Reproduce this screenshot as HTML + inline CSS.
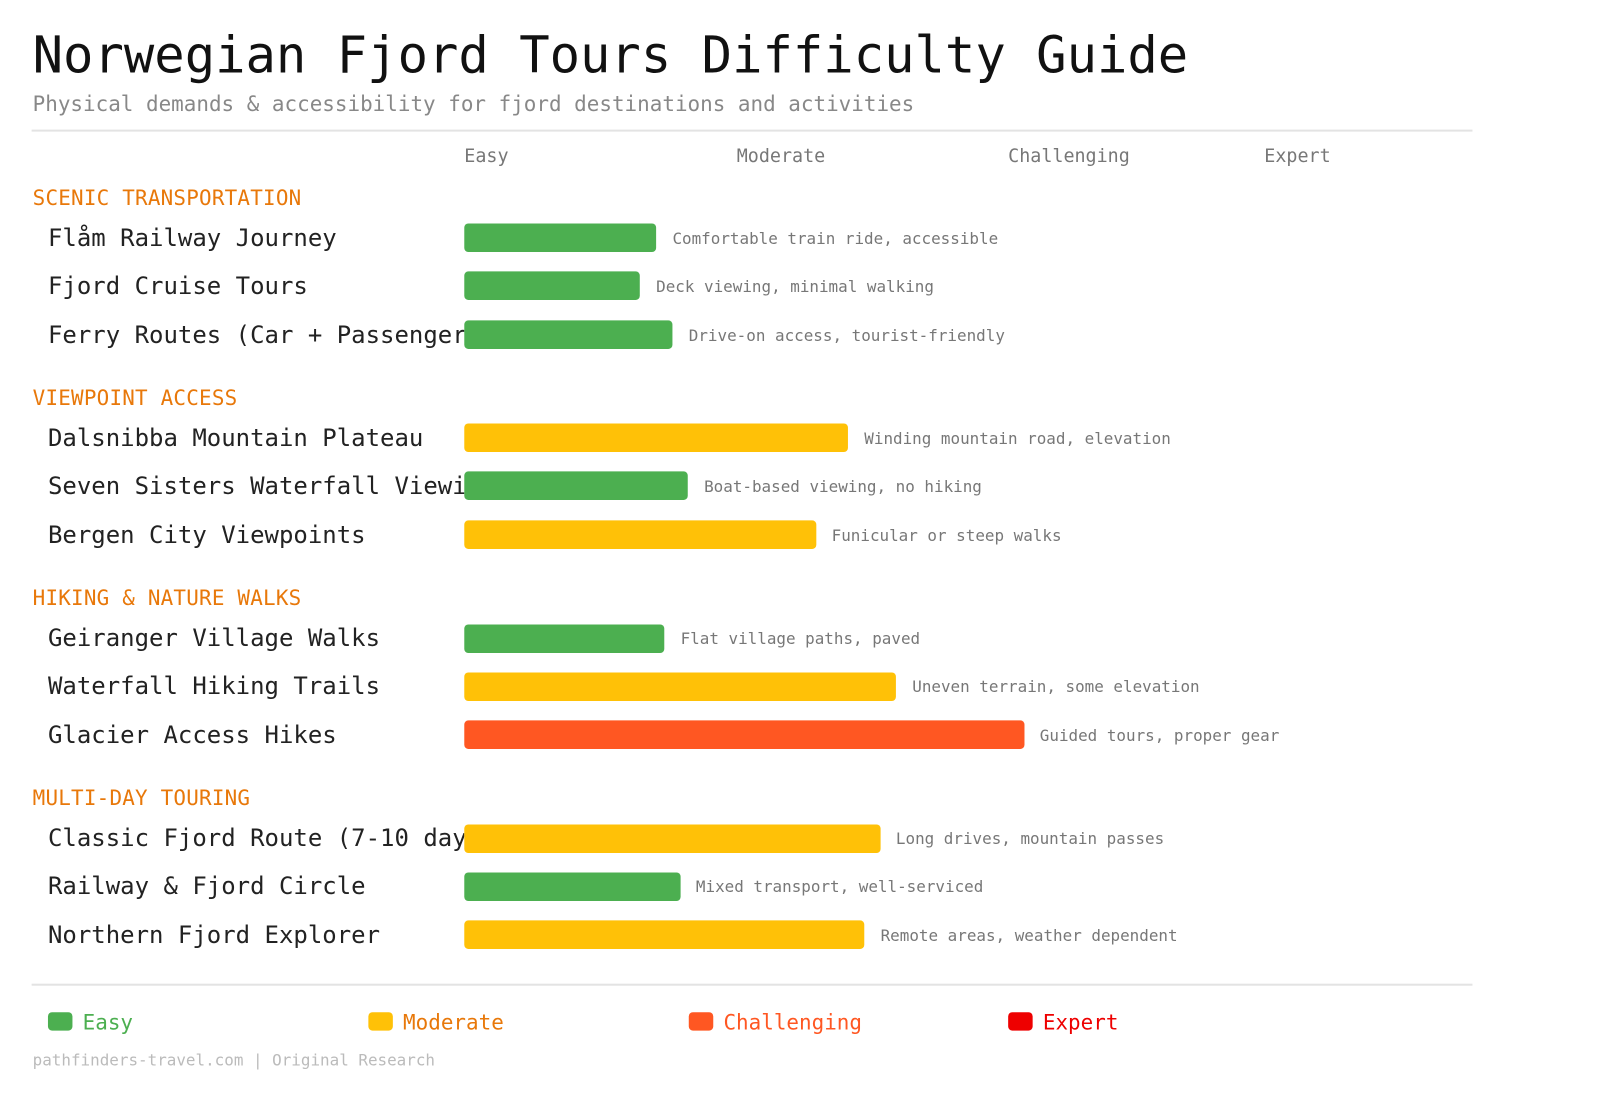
<!DOCTYPE html>
<html><head><meta charset="utf-8"><style>
body{margin:0;width:1600px;height:1120px;background:#fff;position:relative;font-family:"DejaVu Sans Mono","Liberation Mono",monospace;overflow:hidden}
#w{position:absolute;left:0;top:0;width:1568px;height:1098px;transform:scale(1.0204);transform-origin:0 0}
.a{position:absolute;white-space:nowrap}
.t{left:32px;top:24px;font-size:49.5px;color:#111;line-height:60px}
.s{left:32px;top:88px;font-size:20.5px;color:#888;line-height:28px}
.hr{position:absolute;left:31px;width:1412px;height:2px;background:#e3e3e3}
.ax{top:142px;font-size:18px;color:#777;line-height:24px}
.sec{left:32px;font-size:20.5px;color:#e8780a;line-height:26px;letter-spacing:0.2px}
.lab{left:47px;width:408px;overflow:hidden;font-size:23.5px;color:#222;line-height:30px}
.bar{position:absolute;left:455px;height:28px;border-radius:4px}
.n{font-size:15.6px;color:#777;line-height:20px}
.g{background:#4caf50}.y{background:#ffc107}.o{background:#ff5722}.r{background:#e00}
.lg{top:988px;font-size:20.5px;line-height:28px}
.sw{position:absolute;top:992px;width:24px;height:18px;border-radius:4px}
.f{left:32px;top:1028px;font-size:15.6px;color:#bbb;line-height:22px}
</style></head><body><div id="w">
<div class="a t">Norwegian Fjord Tours Difficulty Guide</div>
<div class="a s">Physical demands &amp; accessibility for fjord destinations and activities</div>
<div class="hr" style="top:127px"></div>
<div class="a ax" style="left:455px">Easy</div>
<div class="a ax" style="left:722px">Moderate</div>
<div class="a ax" style="left:988px">Challenging</div>
<div class="a ax" style="left:1239px">Expert</div>

<div class="a sec" style="top:181px">SCENIC TRANSPORTATION</div>
<div class="a lab" style="top:218px">Flåm Railway Journey</div>
<div class="bar g" style="top:219px;width:188px"></div><div class="a n" style="left:659px;top:224px">Comfortable train ride, accessible</div>
<div class="a lab" style="top:265px">Fjord Cruise Tours</div>
<div class="bar g" style="top:266px;width:172px"></div><div class="a n" style="left:643px;top:271px">Deck viewing, minimal walking</div>
<div class="a lab" style="top:313px">Ferry Routes (Car + Passenger)</div>
<div class="bar g" style="top:314px;width:204px"></div><div class="a n" style="left:675px;top:319px">Drive-on access, tourist-friendly</div>

<div class="a sec" style="top:377px">VIEWPOINT ACCESS</div>
<div class="a lab" style="top:414px">Dalsnibba Mountain Plateau</div>
<div class="bar y" style="top:415px;width:376px"></div><div class="a n" style="left:847px;top:420px">Winding mountain road, elevation</div>
<div class="a lab" style="top:461px">Seven Sisters Waterfall Viewing</div>
<div class="bar g" style="top:462px;width:219px"></div><div class="a n" style="left:690px;top:467px">Boat-based viewing, no hiking</div>
<div class="a lab" style="top:509px">Bergen City Viewpoints</div>
<div class="bar y" style="top:510px;width:345px"></div><div class="a n" style="left:815px;top:515px">Funicular or steep walks</div>

<div class="a sec" style="top:573px">HIKING &amp; NATURE WALKS</div>
<div class="a lab" style="top:610px">Geiranger Village Walks</div>
<div class="bar g" style="top:612px;width:196px"></div><div class="a n" style="left:667px;top:616px">Flat village paths, paved</div>
<div class="a lab" style="top:657px">Waterfall Hiking Trails</div>
<div class="bar y" style="top:659px;width:423px"></div><div class="a n" style="left:894px;top:663px">Uneven terrain, some elevation</div>
<div class="a lab" style="top:705px">Glacier Access Hikes</div>
<div class="bar o" style="top:706px;width:549px"></div><div class="a n" style="left:1019px;top:711px">Guided tours, proper gear</div>

<div class="a sec" style="top:769px">MULTI-DAY TOURING</div>
<div class="a lab" style="top:806px">Classic Fjord Route (7-10 days)</div>
<div class="bar y" style="top:808px;width:408px"></div><div class="a n" style="left:878px;top:812px">Long drives, mountain passes</div>
<div class="a lab" style="top:853px">Railway &amp; Fjord Circle</div>
<div class="bar g" style="top:855px;width:212px"></div><div class="a n" style="left:682px;top:859px">Mixed transport, well-serviced</div>
<div class="a lab" style="top:901px">Northern Fjord Explorer</div>
<div class="bar y" style="top:902px;width:392px"></div><div class="a n" style="left:863px;top:907px">Remote areas, weather dependent</div>

<div class="hr" style="top:964px"></div>
<div class="sw g" style="left:47px"></div><div class="a lg" style="left:81px;color:#4caf50">Easy</div>
<div class="sw y" style="left:361px"></div><div class="a lg" style="left:395px;color:#e8780a">Moderate</div>
<div class="sw o" style="left:675px"></div><div class="a lg" style="left:709px;color:#ff5722">Challenging</div>
<div class="sw r" style="left:988px"></div><div class="a lg" style="left:1022px;color:#e00">Expert</div>
<div class="a f">pathfinders-travel.com | Original Research</div>
</div></body></html>
